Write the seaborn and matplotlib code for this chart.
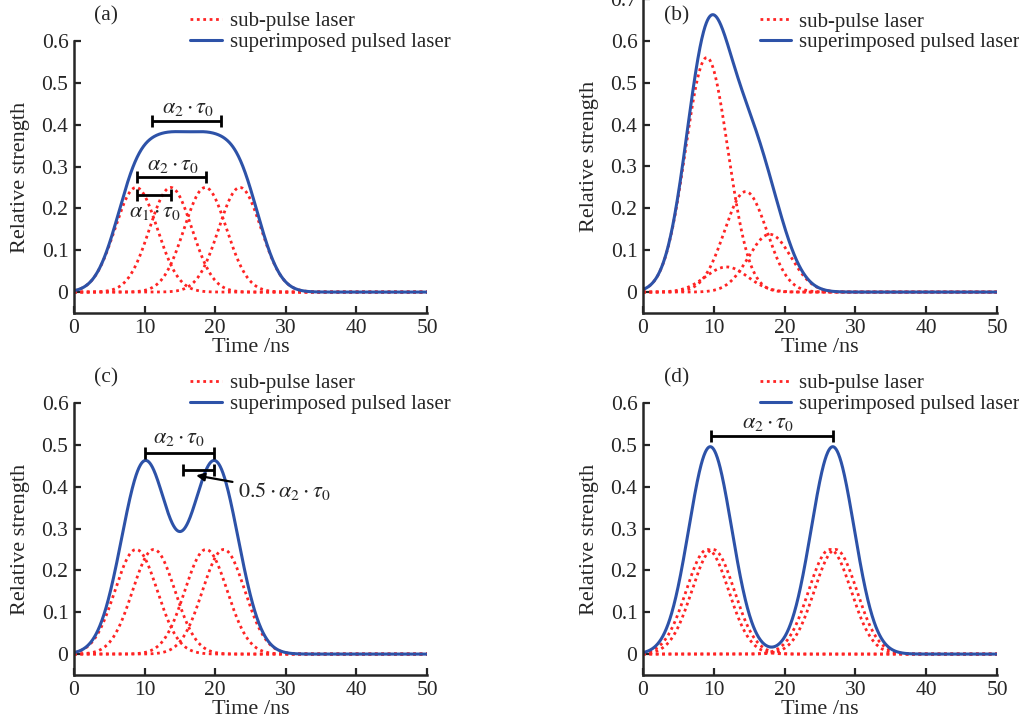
import numpy as np
import matplotlib
matplotlib.use("Agg")
import matplotlib.pyplot as plt
import seaborn as sns
from matplotlib.lines import Line2D
from matplotlib.ticker import FuncFormatter

# time axis (ns) and common sub-pulse width
time_ns = np.linspace(0, 50, 1001)
sigma_ns = 3.0

# sub-pulse centres (ns) and peak strengths
centers_a = [8.8, 13.7, 18.6, 23.5]
peaks_a = [0.25, 0.25, 0.25, 0.25]
centers_b = [9.0, 11.8, 14.5, 17.9]
peaks_b = [0.56, 0.06, 0.24, 0.138]
centers_c = [8.8, 11.3, 18.7, 21.2]
peaks_c = [0.25, 0.25, 0.25, 0.25]
centers_d = [9.1, 9.9, 26.4, 27.2]
peaks_d = [0.25, 0.25, 0.25, 0.25]

panel_tags = ["(a)", "(b)", "(c)", "(d)"]
panel_ymax = [0.6, 0.7, 0.6, 0.6]

RED = "#ff2424"
BLUE = "#2d52a8"

sns.set_style("ticks")
plt.rcParams["font.family"] = ["Liberation Serif", "DejaVu Serif"]
plt.rcParams["mathtext.fontset"] = "stix"
plt.rcParams["xtick.direction"] = "in"
plt.rcParams["ytick.direction"] = "in"

fig = plt.figure(figsize=(10.19, 7.22), dpi=100)
W, H = 1019, 722


def add_ax(left, right, top, bottom):
    return fig.add_axes([left / W, (H - bottom) / H, (right - left) / W, (bottom - top) / H])


ax_a = add_ax(74, 427, 41, 313)
ax_b = add_ax(643, 997, -1, 313)
ax_c = add_ax(74, 427, 403, 675)
ax_d = add_ax(643, 997, 403, 675)
axes = [ax_a, ax_b, ax_c, ax_d]
all_centers = [centers_a, centers_b, centers_c, centers_d]
all_peaks = [peaks_a, peaks_b, peaks_c, peaks_d]

for ax, centers, peaks, ymax, tag in zip(axes, all_centers, all_peaks, panel_ymax, panel_tags):
    total = np.zeros_like(time_ns)
    for c, p in zip(centers, peaks):
        sub = p * np.exp(-(time_ns - c) ** 2 / (2 * sigma_ns ** 2))
        total += sub
        sns.lineplot(x=time_ns, y=sub, ax=ax, color=RED, lw=2.0,
                     linestyle=(0, (1, 1.3)))
    sns.lineplot(x=time_ns, y=total, ax=ax, color=BLUE, lw=2.2)

    ax.set_xlim(0, 50)
    ax.set_ylim(-0.05, ymax)
    ax.set_xticks(np.arange(0, 51, 10))
    ax.set_yticks(np.arange(0, ymax + 0.001, 0.1))
    ax.yaxis.set_major_formatter(FuncFormatter(lambda v, _: f"{v:.1f}" if abs(v) > 1e-9 else "0"))
    ax.tick_params(labelsize=15.5, length=5, width=1.6, pad=4)
    sns.despine(ax=ax)
    for s in ["left", "bottom"]:
        ax.spines[s].set_linewidth(1.8)
    ax.set_xlabel("Time /ns", fontsize=16, labelpad=0)
    ax.set_ylabel("Relative strength", fontsize=16, labelpad=8)

    handles = [Line2D([], [], color=RED, lw=2.0, linestyle=(0, (1, 1.3))),
               Line2D([], [], color=BLUE, lw=2.2)]
    leg_top = 0.958 if ax is ax_b else 1.107
    ax.legend(handles, ["sub-pulse laser", "superimposed pulsed laser"],
              loc="upper left", bbox_to_anchor=(0.33, leg_top), frameon=False,
              fontsize=15, handlelength=1.5, handletextpad=0.4,
              labelspacing=0.05, borderpad=0, borderaxespad=0)

    ax.text(2.9, ymax + 0.06 if ax is not ax_b else 0.66, tag, fontsize=15.5,
            ha="left", va="center", clip_on=False)

# bracket annotations
bk = dict(color="black", lw=2, capsize=4, capthick=2, fmt="none")
lab2 = r"$\alpha_2 \cdot \tau_0$"
ax_a.errorbar(x=15.9, y=0.41, xerr=4.9, **bk)
ax_a.text(16.2, 0.438, lab2, fontsize=16, ha="center", va="center")
ax_a.errorbar(x=13.8, y=0.276, xerr=4.9, **bk)
ax_a.text(14.1, 0.303, lab2, fontsize=16, ha="center", va="center")
ax_a.errorbar(x=11.35, y=0.231, xerr=2.45, **bk)
ax_a.text(11.5, 0.19, r"$\alpha_1 \cdot \tau_0$", fontsize=16, ha="center", va="center")

ax_c.errorbar(x=14.95, y=0.48, xerr=4.95, **bk)
ax_c.text(14.9, 0.516, lab2, fontsize=16, ha="center", va="center")
ax_c.errorbar(x=17.7, y=0.44, xerr=2.2, **bk)
ax_c.annotate(r"$0.5 \cdot \alpha_2 \cdot \tau_0$", xy=(17.3, 0.427), xytext=(23.3, 0.389),
              fontsize=16, ha="left", va="center",
              arrowprops=dict(arrowstyle="-|>,head_length=0.3,head_width=0.15",
                              color="black", lw=1.6, shrinkA=2, shrinkB=0))

ax_d.errorbar(x=18.25, y=0.52, xerr=8.65, **bk)
ax_d.text(17.7, 0.552, lab2, fontsize=16, ha="center", va="center")

fig.savefig("out.png", dpi=100)
